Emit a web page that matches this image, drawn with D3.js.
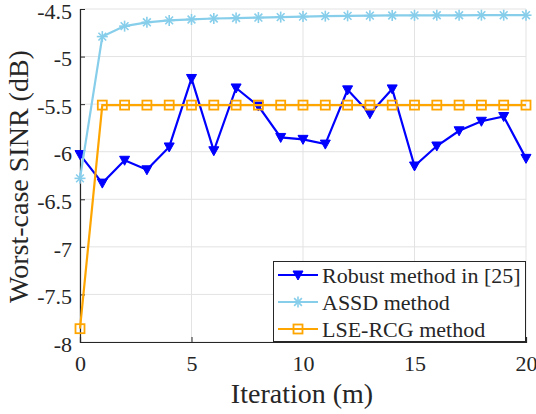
<!DOCTYPE html>
<html><head><meta charset="utf-8"><script src="https://cdn.jsdelivr.net/npm/d3@7"></script></head>
<body style="margin:0">
<svg id="chart" width="536" height="414" font-family="'Liberation Serif'"></svg>
<script>
const iterations = d3.range(0, 21);
const robust = [-6.03, -6.33, -6.09, -6.19, -5.95, -5.23, -5.99, -5.33, -5.52, -5.85,
  -5.87, -5.92, -5.35, -5.60, -5.34, -6.15, -5.94, -5.78, -5.68, -5.63, -6.07];
const assd = [-6.28, -4.79, -4.68, -4.64, -4.62, -4.61, -4.60, -4.595, -4.59, -4.585,
  -4.58, -4.575, -4.572, -4.57, -4.568, -4.567, -4.566, -4.566, -4.565, -4.565, -4.565];
const lse = [-7.86, -5.51, -5.51, -5.51, -5.51, -5.51, -5.51, -5.51, -5.51, -5.51,
  -5.51, -5.51, -5.51, -5.51, -5.51, -5.51, -5.51, -5.51, -5.51, -5.51, -5.51];
const xTicks = [0, 5, 10, 15, 20];
const yTicks = [-8, -7.5, -7, -6.5, -6, -5.5, -5, -4.5];
const seriesNames = ['Robust method in [25]', 'ASSD method', 'LSE-RCG method'];

const margin = { left: 80, right: 10, top: 9, bottom: 72 };
const width = 536, height = 414;
const svg = d3.select('#chart');
const serif = "'Liberation Serif'";
const ink = '#262626';

const x = d3.scaleLinear().domain([0, 20]).range([margin.left, width - margin.right]);
const y = d3.scaleLinear().domain([-8, -4.5]).range([height - margin.bottom, margin.top]);

// Grid
const grid = svg.append('g');
grid.selectAll('.gx').data(xTicks).join('line')
  .attr('x1', d => x(d)).attr('x2', d => x(d))
  .attr('y1', y(-8)).attr('y2', y(-4.5))
  .attr('stroke', '#e3e3e3').attr('stroke-width', 1);
grid.selectAll('.gy').data(yTicks).join('line')
  .attr('x1', x(0)).attr('x2', x(20))
  .attr('y1', d => y(d)).attr('y2', d => y(d))
  .attr('stroke', '#e3e3e3').attr('stroke-width', 1);

// Axes
const xAxis = svg.append('g')
  .attr('transform', `translate(0,${y(-8)})`)
  .call(d3.axisBottom(x).tickValues(xTicks).tickSize(-5).tickPadding(13).tickFormat(d3.format('d')));
const yAxis = svg.append('g')
  .attr('transform', `translate(${x(0)},0)`)
  .call(d3.axisLeft(y).tickValues(yTicks).tickSize(-5).tickPadding(8).tickFormat(d => String(d)));
[xAxis, yAxis].forEach(a => {
  a.attr('font-family', serif).attr('font-size', 22);
  a.select('.domain').attr('stroke', ink).attr('stroke-width', 1.2);
  a.selectAll('.tick line').attr('stroke', ink);
  a.selectAll('.tick text').attr('fill', ink).attr('font-family', serif);
});
yAxis.selectAll('.tick text').attr('dy', '0.42em');

// Axis labels
svg.append('text')
  .attr('x', 302).attr('y', 403)
  .attr('text-anchor', 'middle').attr('font-size', 28)
  .attr('font-family', serif).attr('fill', ink)
  .text('Iteration (m)');
svg.append('text')
  .attr('transform', 'translate(28,176.5) rotate(-90)')
  .attr('text-anchor', 'middle').attr('font-size', 28)
  .attr('font-family', serif).attr('fill', ink)
  .text('Worst-case SINR (dB)');

const line = d3.line().x((d, i) => x(iterations[i])).y(d => y(d));

function triangle(g, cx, cy, color) {
  g.append('path')
    .attr('d', `M${cx - 5},${cy - 4}L${cx + 5},${cy - 4}L${cx},${cy + 5}Z`)
    .attr('fill', color).attr('stroke', color).attr('stroke-width', 1);
}
function asterisk(g, cx, cy, color) {
  const r = 5.5;
  [0, 45, 90, 135].forEach(a => {
    const rad = a * Math.PI / 180;
    g.append('line')
      .attr('x1', cx - r * Math.cos(rad)).attr('y1', cy - r * Math.sin(rad))
      .attr('x2', cx + r * Math.cos(rad)).attr('y2', cy + r * Math.sin(rad))
      .attr('stroke', color).attr('stroke-width', 1.6);
  });
}
function square(g, cx, cy, color) {
  g.append('rect')
    .attr('x', cx - 4.5).attr('y', cy - 4.5).attr('width', 9).attr('height', 9)
    .attr('fill', 'none').attr('stroke', color).attr('stroke-width', 1.8);
}

const series = [
  { data: robust, color: '#0000ff', marker: triangle, width: 2.2 },
  { data: assd, color: '#87ceeb', marker: asterisk, width: 2.2 },
  { data: lse, color: '#ffa500', marker: square, width: 2.2 }
];

series.forEach(s => {
  const g = svg.append('g');
  g.append('path').datum(s.data)
    .attr('d', line).attr('fill', 'none')
    .attr('stroke', s.color).attr('stroke-width', s.width);
  s.data.forEach((v, i) => s.marker(g, x(iterations[i]), y(v), s.color));
});

// Legend
const lg = svg.append('g');
lg.append('rect')
  .attr('x', 273.5).attr('y', 261.5).attr('width', 252).attr('height', 80)
  .attr('fill', '#fff').attr('stroke', ink).attr('stroke-width', 1);
const rowY = [275, 302, 329];
series.forEach((s, i) => {
  lg.append('line')
    .attr('x1', 278).attr('x2', 318).attr('y1', rowY[i]).attr('y2', rowY[i])
    .attr('stroke', s.color).attr('stroke-width', s.width);
  s.marker(lg, 298, rowY[i], s.color);
  lg.append('text')
    .attr('x', 322).attr('y', rowY[i]).attr('dy', '0.35em')
    .attr('font-size', 22).attr('font-family', serif).attr('fill', ink)
    .text(seriesNames[i]);
});
</script>
</body>
</html>
